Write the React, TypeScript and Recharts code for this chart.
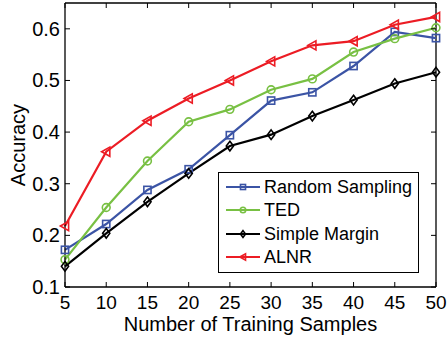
import React from 'react';
import { LineChart, Line, XAxis, YAxis, Legend, ReferenceLine } from 'recharts';

// values
const samples = [5, 10, 15, 20, 25, 30, 35, 40, 45, 50];
const randomSampling = [0.172, 0.222, 0.288, 0.328, 0.394, 0.461, 0.477, 0.528, 0.594, 0.582];
const ted = [0.153, 0.254, 0.344, 0.42, 0.444, 0.482, 0.503, 0.555, 0.581, 0.602];
const simpleMargin = [0.14, 0.204, 0.265, 0.32, 0.373, 0.395, 0.431, 0.462, 0.494, 0.516];
const alnr = [0.218, 0.362, 0.422, 0.465, 0.5, 0.537, 0.568, 0.576, 0.608, 0.623];

const xTicks = [5, 10, 15, 20, 25, 30, 35, 40, 45, 50];
const yTicks = [0.1, 0.2, 0.3, 0.4, 0.5, 0.6];

const series = [
  { key: 'rs', name: 'Random Sampling', color: '#3b54a5', marker: 'square', values: randomSampling },
  { key: 'ted', name: 'TED', color: '#78c043', marker: 'circle', values: ted },
  { key: 'sm', name: 'Simple Margin', color: '#000000', marker: 'diamond', values: simpleMargin },
  { key: 'alnr', name: 'ALNR', color: '#ec1c24', marker: 'triangle', values: alnr },
];

const data = samples.map((n, i) => {
  const row: Record<string, number> = { n };
  series.forEach(s => { row[s.key] = s.values[i]; });
  return row;
});

const W = 447;
const H = 339;
const margin = { top: 3, right: 11, left: 0, bottom: 0 };
const Y_AXIS_W = 65;
const X_AXIS_H = 52;
const PLOT_W = W - margin.left - margin.right - Y_AXIS_W;
const PLOT_H = H - margin.top - margin.bottom - X_AXIS_H;
const FONT = '"Liberation Sans", Arial, Helvetica, sans-serif';
const TICK_LEN = 5;

const Marker = ({ cx, cy, shape, color, size = 1 }: any) => {
  const common = { fill: 'none', stroke: color, strokeWidth: 1.6 };
  if (shape === 'square') {
    const s = 3.6 * size;
    return <rect x={cx - s} y={cy - s} width={2 * s} height={2 * s} {...common} />;
  }
  if (shape === 'circle') {
    return <circle cx={cx} cy={cy} r={3.9 * size} {...common} />;
  }
  if (shape === 'diamond') {
    const h = 4.8 * size, w = 3.6 * size;
    return <polygon points={`${cx},${cy - h} ${cx + w},${cy} ${cx},${cy + h} ${cx - w},${cy}`} {...common} />;
  }
  const h = 4.6 * size;
  return <polygon points={`${cx - h},${cy} ${cx + 3.6 * size},${cy - h} ${cx + 3.6 * size},${cy + h}`} {...common} />;
};

const XTick = ({ x, y, payload }: any) => (
  <g>
    <line x1={x} x2={x} y1={y} y2={y - TICK_LEN} stroke="#000" />
    <line x1={x} x2={x} y1={y - PLOT_H} y2={y - PLOT_H + TICK_LEN} stroke="#000" />
    <text x={x} y={y + 22} textAnchor="middle" fontSize={19} fontFamily={FONT} fill="#000">
      {payload.value}
    </text>
  </g>
);

const YTick = ({ x, y, payload }: any) => (
  <g>
    <line x1={x} x2={x + TICK_LEN} y1={y} y2={y} stroke="#000" />
    <line x1={x + PLOT_W} x2={x + PLOT_W - TICK_LEN} y1={y} y2={y} stroke="#000" />
    <text x={x - 5} y={y + 7} textAnchor="end" fontSize={20} fontFamily={FONT} fill="#000">
      {payload.value}
    </text>
  </g>
);

const YLabel = ({ viewBox }: any) => {
  const cx = viewBox.x + 25;
  const cy = viewBox.y + viewBox.height / 2;
  return (
    <text x={cx} y={cy} transform={`rotate(-90, ${cx}, ${cy})`} textAnchor="middle"
      fontSize={20} fontFamily={FONT} fill="#000">
      Accuracy
    </text>
  );
};

const XLabel = ({ viewBox }: any) => (
  <text x={viewBox.x + viewBox.width / 2} y={viewBox.y + 44} textAnchor="middle"
    fontSize={20} fontFamily={FONT} fill="#000">
    Number of Training Samples
  </text>
);

const LegendBox = () => (
  <div style={{
    border: '1.5px solid #000', background: '#fff', width: 201, padding: '2px 0 3px 0',
    fontFamily: FONT, fontSize: 18, color: '#000', boxSizing: 'border-box',
  }}>
    {series.map(s => (
      <div key={s.key} style={{ display: 'flex', alignItems: 'center', height: 23.5 }}>
        <svg width={44} height={14} style={{ flex: 'none' }}>
          <line x1={7} x2={41} y1={7} y2={7} stroke={s.color} strokeWidth={2} />
          <Marker cx={24} cy={7} shape={s.marker} color={s.color} size={0.7} />
        </svg>
        <span style={{ marginLeft: 1, lineHeight: '20px' }}>{s.name}</span>
      </div>
    ))}
  </div>
);

export default function App() {
  return (
    <div style={{ position: 'absolute', left: 0, top: 0, width: W, height: H, background: '#fff' }}>
      <LineChart width={W} height={H} data={data} margin={margin}>
        <XAxis dataKey="n" type="number" domain={[5, 50]} ticks={xTicks} height={X_AXIS_H}
          tickSize={0} tickMargin={0} tick={<XTick />} axisLine={{ stroke: '#000', strokeWidth: 1.3 }}
          label={<XLabel />} interval={0} />
        <YAxis type="number" domain={[0.1, 0.65]} ticks={yTicks} width={Y_AXIS_W}
          tickSize={0} tickMargin={0} tick={<YTick />} axisLine={{ stroke: '#000', strokeWidth: 1.3 }}
          label={<YLabel />} interval={0} />
        <ReferenceLine y={0.65} stroke="#000" strokeWidth={1.3} />
        <ReferenceLine x={50} stroke="#000" strokeWidth={1.3} />
        {series.map(s => (
          <Line key={s.key} dataKey={s.key} name={s.name} type="linear" stroke={s.color}
            strokeWidth={2.2} isAnimationActive={false}
            dot={(p: any) => <Marker key={`${s.key}-${p.index}`} cx={p.cx} cy={p.cy} shape={s.marker} color={s.color} />} />
        ))}
        <Legend layout="horizontal" verticalAlign="middle" align="center" content={<LegendBox />}
          wrapperStyle={{ left: 218, top: 172, width: 'auto' }} />
      </LineChart>
    </div>
  );
}
